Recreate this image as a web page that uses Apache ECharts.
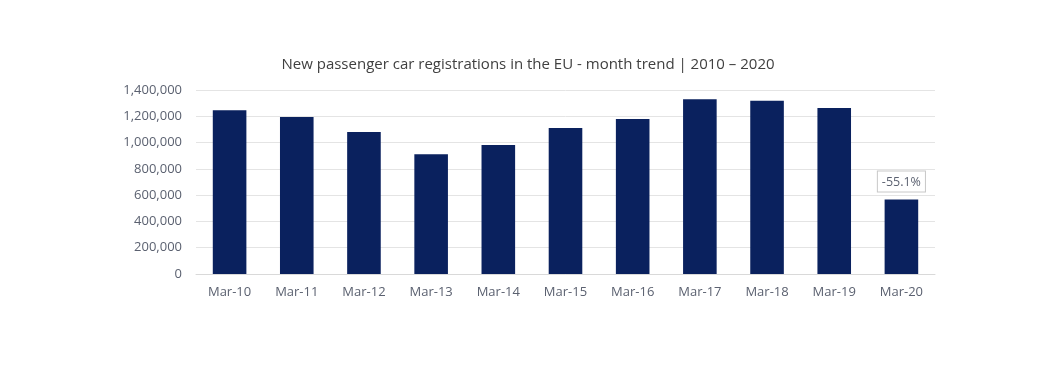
<!DOCTYPE html>
<html><head><meta charset="utf-8">
<script src="https://cdn.jsdelivr.net/npm/echarts@6/dist/echarts.min.js"></script>
<style>html,body{margin:0;padding:0;background:#fff}#c{width:1056px;height:371px}</style>
</head><body><div id="c"></div>
<script>
const categories = ['Mar-10','Mar-11','Mar-12','Mar-13','Mar-14','Mar-15','Mar-16','Mar-17','Mar-18','Mar-19','Mar-20'];
const registrations = [1245000,1195000,1080000,911000,981000,1111000,1179000,1329000,1319000,1263000,566000];
const barLabels = ['','','','','','','','','','','-55.1%'];
const titleText = 'New passenger car registrations in the EU - month trend | 2010 \u2013 2020';

const chart = echarts.init(document.getElementById('c'), null, {renderer:'canvas'});
chart.setOption({
  animation:false,
  backgroundColor:'#fff',
  title:{text:titleText,left:'center',top:52,
    textStyle:{fontFamily:'Open Sans',fontSize:15,fontWeight:'normal',color:'#404040'}},
  grid:{left:196,right:121,top:90,bottom:97,containLabel:false},
  xAxis:{type:'category',data:categories,
    axisLine:{lineStyle:{color:'#d9d9d9'}},axisTick:{show:false},
    axisLabel:{color:'#5b6170',fontFamily:'Open Sans',fontSize:13,margin:12}},
  yAxis:{type:'value',min:0,max:1400000,interval:200000,
    axisLine:{show:false},axisTick:{show:false},
    splitLine:{lineStyle:{color:'#e4e4e4'}},
    axisLabel:{color:'#5b6170',fontFamily:'Open Sans',fontSize:13,margin:14,
      formatter:v=>v.toLocaleString('en-US')}},
  series:[{type:'bar',data:registrations.map((v,i)=>({value:v,label:{show:barLabels[i]!=='' ,formatter:barLabels[i]}})),
    barWidth:'50%',itemStyle:{color:'#0a215e'},
    label:{position:'top',distance:8,color:'#5b6170',fontFamily:'Open Sans',fontSize:12.5,
      backgroundColor:'#fff',borderColor:'#c8c8c8',borderWidth:1,padding:[4,4,3,4]}}]
});
</script></body></html>
